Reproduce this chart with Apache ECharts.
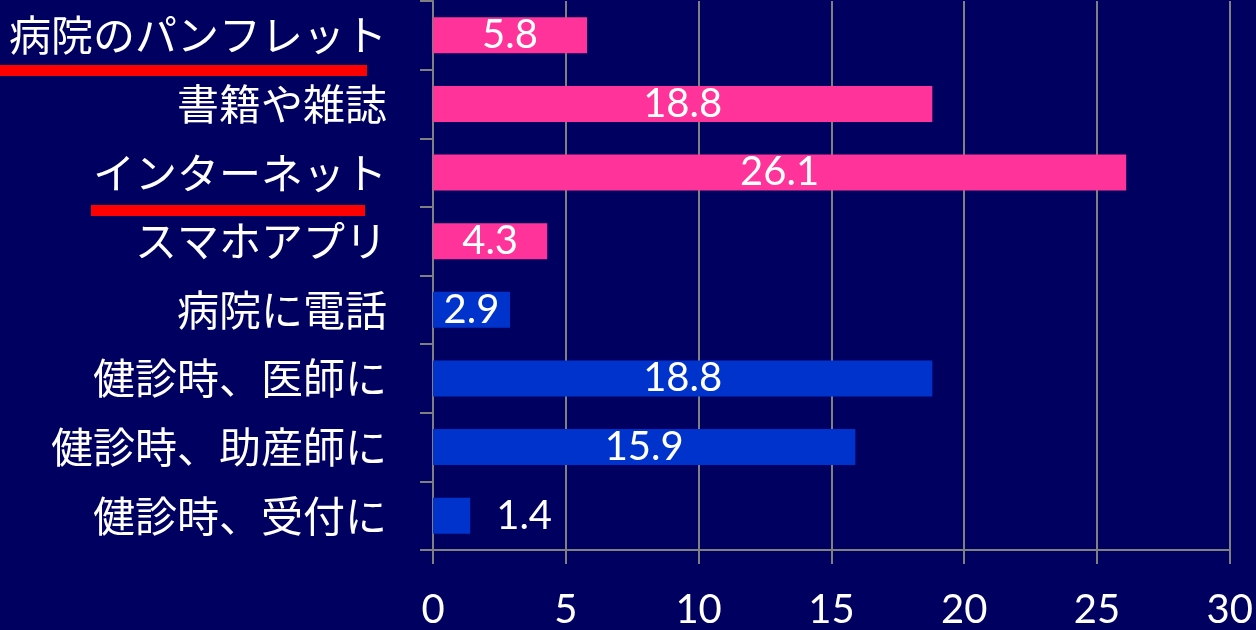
<!DOCTYPE html>
<html>
<head>
<meta charset="utf-8">
<script src="https://cdn.jsdelivr.net/npm/echarts@6/dist/echarts.min.js"></script>
<style>
html, body { margin: 0; padding: 0; background: #000060; }
#chart { width: 1256px; height: 630px; }
</style>
</head>
<body>
<div id="chart"></div>
<script>
var categories = [
	"病院のパンフレット",
	"書籍や雑誌",
	"インターネット",
	"スマホアプリ",
	"病院に電話",
	"健診時、医師に",
	"健診時、助産師に",
	"健診時、受付に"
];
var values = [5.8, 18.8, 26.1, 4.3, 2.9, 18.8, 15.9, 1.4];
// 自分で調べた / 病院で聞いた
var groups = ["self", "self", "self", "self", "hospital", "hospital", "hospital", "hospital"];
var xTicks = [0, 5, 10, 15, 20, 25, 30];

var myChart = echarts.init(document.getElementById("chart"));

var groupColor = { self: "#FF3399", hospital: "#0033CC" };
var jpFont = "'Noto Sans CJK JP', 'Noto Sans', sans-serif";
var numFont = "Lato, 'Noto Sans', sans-serif";

var barData = values.map(function (v, i) {
	var item = {
		value: v,
		itemStyle: { color: groupColor[groups[i]] }
	};
	// 棒が短すぎるときはラベルを外に出す
	if (v < 2) {
		item.label = { position: "right", distance: 26 };
	}
	return item;
});

var option = {
	backgroundColor: "#000060",
	animation: false,
	grid: {
		left: 433,
		right: 26,
		top: 1,
		bottom: 79
	},
	xAxis: {
		type: "value",
		min: xTicks[0],
		max: xTicks[xTicks.length - 1],
		interval: 5,
		axisLine: { show: true, lineStyle: { color: "#808080", width: 2 } },
		axisTick: { show: true, length: 14, lineStyle: { color: "#808080", width: 2 } },
		splitLine: { show: true, lineStyle: { color: "#808080", width: 2 } },
		axisLabel: {
			color: "#ffffff",
			fontSize: 40,
			fontFamily: numFont,
			margin: 40
		}
	},
	yAxis: {
		type: "category",
		data: categories,
		inverse: true,
		axisLine: { show: true, lineStyle: { color: "#808080", width: 2 } },
		axisTick: { show: true, length: 13, lineStyle: { color: "#808080", width: 2 } },
		axisLabel: {
			color: "#ffffff",
			fontSize: 42,
			fontFamily: jpFont,
			margin: 46
		}
	},
	graphic: [
		{
			type: "rect",
			shape: { x: 0, y: 65, width: 367, height: 11 },
			style: { fill: "#FF0000" },
			z: 100
		},
		{
			type: "rect",
			shape: { x: 91, y: 205, width: 274, height: 11 },
			style: { fill: "#FF0000" },
			z: 100
		}
	],
	series: [
		{
			type: "bar",
			barWidth: 36,
			data: barData,
			label: {
				show: true,
				position: "inside",
				color: "#ffffff",
				fontSize: 40,
				fontFamily: numFont
			}
		}
	]
};

myChart.setOption(option);
</script>
</body>
</html>
